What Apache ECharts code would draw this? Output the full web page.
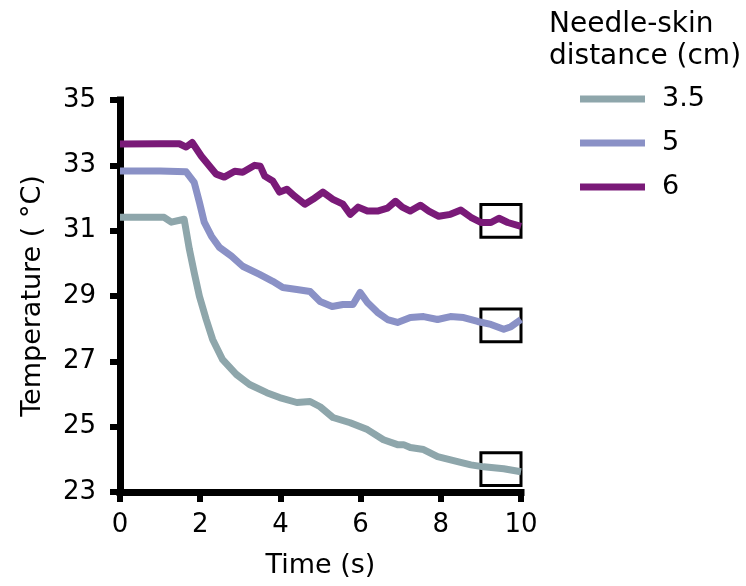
<!DOCTYPE html>
<html>
<head>
<meta charset="utf-8">
<script src="https://cdn.jsdelivr.net/npm/echarts@6/dist/echarts.min.js"></script>
<style>
  html, body { margin: 0; padding: 0; background: #fff; }
  #chart { width: 746px; height: 586px; }
</style>
</head>
<body>
<div id="chart"></div>
<script>
"use strict";
// tick labels
var xTicks = [0, 2, 4, 6, 8, 10];
var yTicks = [23, 25, 27, 29, 31, 33, 35];

// legend names (needle-skin distance, cm)
var seriesNames = ['3.5', '5', '6'];

// 3.5 cm
var time35 = [0, 1.1, 1.28, 1.6, 1.73, 1.85, 1.98, 2.15, 2.31, 2.56, 2.9, 3.23, 3.66, 3.98, 4.41, 4.74, 4.99, 5.31, 5.74, 6.17, 6.57, 6.92, 7.07, 7.24, 7.57, 7.92, 8.42, 8.75, 9.07, 9.57, 10];
var temp35 = [31.41, 31.41, 31.26, 31.35, 30.43, 29.72, 28.99, 28.28, 27.67, 27.05, 26.6, 26.29, 26.04, 25.89, 25.74, 25.77, 25.61, 25.28, 25.12, 24.91, 24.6, 24.45, 24.45, 24.36, 24.3, 24.08, 23.93, 23.83, 23.77, 23.71, 23.62];

// 5 cm
var time5 = [0, 1.0, 1.65, 1.85, 1.98, 2.1, 2.28, 2.48, 2.78, 3.06, 3.48, 3.81, 4.06, 4.41, 4.74, 4.99, 5.29, 5.56, 5.81, 5.99, 6.17, 6.42, 6.67, 6.92, 7.24, 7.57, 7.92, 8.24, 8.57, 8.92, 9.25, 9.57, 9.75, 10];
var temp5 = [32.83, 32.83, 32.8, 32.48, 31.87, 31.26, 30.83, 30.49, 30.22, 29.91, 29.66, 29.45, 29.26, 29.2, 29.14, 28.83, 28.68, 28.74, 28.74, 29.11, 28.8, 28.5, 28.28, 28.19, 28.34, 28.37, 28.28, 28.37, 28.34, 28.22, 28.13, 27.98, 28.06, 28.28];

// 6 cm
var time6 = [0, 1.0, 1.48, 1.65, 1.8, 2.03, 2.23, 2.4, 2.6, 2.86, 3.06, 3.36, 3.5, 3.61, 3.81, 3.98, 4.16, 4.36, 4.61, 4.81, 5.06, 5.31, 5.56, 5.74, 5.94, 6.17, 6.42, 6.67, 6.87, 7.04, 7.24, 7.49, 7.7, 7.95, 8.24, 8.5, 8.75, 9.0, 9.25, 9.45, 9.67, 10];
var temp6 = [33.65, 33.66, 33.66, 33.56, 33.7, 33.28, 32.98, 32.73, 32.64, 32.82, 32.79, 33.0, 32.97, 32.67, 32.52, 32.18, 32.27, 32.05, 31.81, 31.96, 32.18, 31.96, 31.81, 31.5, 31.72, 31.6, 31.6, 31.69, 31.9, 31.72, 31.6, 31.78, 31.6, 31.44, 31.5, 31.63, 31.41, 31.25, 31.25, 31.38, 31.25, 31.13];

// highlighted end windows [t0, t1, Tlow, Thigh]
var box35 = [9, 10, 23.2, 24.2];
var box5 = [9, 10, 27.6, 28.6];
var box6 = [9, 10, 30.8, 31.8];

var colors = ['#8ea6ab', '#8a91c6', '#7a1a78'];

var zip = function (xs, ys) {
  return xs.map(function (x, i) { return [x, ys[i]]; });
};

var makeSeries = function (name, xs, ys, box, color) {
  return {
    name: name,
    type: 'line',
    data: zip(xs, ys),
    showSymbol: false,
    symbol: 'none',
    lineStyle: { color: color, width: 7, join: 'round', cap: 'butt' },
    itemStyle: { color: color },
    z: 2,
    markArea: {
      silent: true,
      itemStyle: { color: 'rgba(0,0,0,0)', borderColor: '#000', borderWidth: 3 },
      data: [[{ xAxis: box[0], yAxis: box[2] }, { xAxis: box[1], yAxis: box[3] }]]
    }
  };
};

var font = 'DejaVu Sans';
var chart = echarts.init(document.getElementById('chart'));
chart.setOption({
  animation: false,
  backgroundColor: '#fff',
  textStyle: { fontFamily: font, color: '#000' },
  title: {
    text: 'Needle-skin\ndistance (cm)',
    left: 549,
    top: 9,
    padding: 0,
    textStyle: { fontFamily: font, fontSize: 28, fontWeight: 'normal', color: '#000', lineHeight: 32 }
  },
  legend: {
    data: seriesNames,
    orient: 'vertical',
    left: 580,
    top: 84,
    padding: 0,
    icon: 'rect',
    itemWidth: 65,
    itemHeight: 7,
    itemGap: 14,
    textStyle: { fontFamily: font, fontSize: 27, color: '#000', lineHeight: 30, padding: [0, 0, 0, 12] }
  },
  grid: { left: 120, right: 225, top: 100, bottom: 94 },
  xAxis: {
    type: 'value',
    min: 0,
    max: 10,
    name: 'Time (s)',
    nameLocation: 'middle',
    nameGap: 60,
    nameTextStyle: { fontFamily: font, fontSize: 27, color: '#000' },
    splitLine: { show: false },
    axisLine: { show: true, onZero: false, lineStyle: { color: '#000', width: 7, cap: 'square' } },
    axisTick: { show: true, customValues: xTicks, length: 10, lineStyle: { color: '#000', width: 6 } },
    axisLabel: { customValues: xTicks, fontFamily: font, fontSize: 26, color: '#000', margin: 20 }
  },
  yAxis: {
    type: 'value',
    min: 23,
    max: 35,
    name: 'Temperature ( °C)',
    nameLocation: 'middle',
    nameGap: 74,
    nameTextStyle: { fontFamily: font, fontSize: 27, color: '#000' },
    splitLine: { show: false },
    axisLine: { show: true, onZero: false, lineStyle: { color: '#000', width: 7, cap: 'square' } },
    axisTick: { show: true, customValues: yTicks, length: 10, lineStyle: { color: '#000', width: 6 } },
    axisLabel: { customValues: yTicks, fontFamily: font, fontSize: 26, color: '#000', margin: 24 }
  },
  series: [
    makeSeries(seriesNames[0], time35, temp35, box35, colors[0]),
    makeSeries(seriesNames[1], time5, temp5, box5, colors[1]),
    makeSeries(seriesNames[2], time6, temp6, box6, colors[2])
  ]
});
</script>
</body>
</html>
